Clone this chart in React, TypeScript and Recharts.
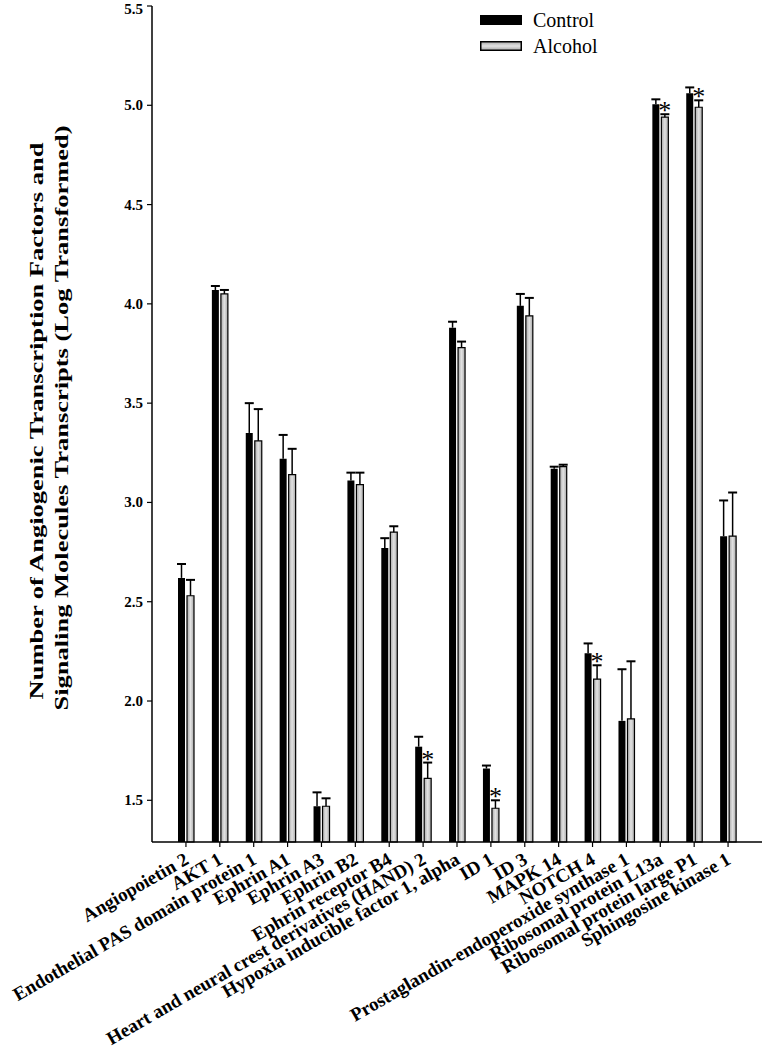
import React from 'react';
import { BarChart, Bar, XAxis, YAxis, LabelList } from 'recharts';

const categories = [
  'Angiopoietin 2',
  'AKT 1',
  'Endothelial PAS domain protein 1',
  'Ephrin A1',
  'Ephrin A3',
  'Ephrin B2',
  'Ephrin receptor B4',
  'Heart and neural crest derivatives (HAND) 2',
  'Hypoxia inducible factor 1, alpha',
  'ID 1',
  'ID 3',
  'MAPK 14',
  'NOTCH 4',
  'Prostaglandin-endoperoxide synthase 1',
  'Ribosomal protein L13a',
  'Ribosomal protein large P1',
  'Sphingosine kinase 1',
];
const control = [2.62, 4.07, 3.35, 3.22, 1.47, 3.11, 2.77, 1.77, 3.88, 1.66, 3.99, 3.17, 2.24, 1.9, 5.005, 5.06, 2.83];
const controlErr = [0.07, 0.02, 0.15, 0.12, 0.07, 0.04, 0.05, 0.05, 0.03, 0.015, 0.06, 0.01, 0.05, 0.26, 0.025, 0.03, 0.18];
const alcohol = [2.53, 4.05, 3.31, 3.14, 1.47, 3.09, 2.85, 1.61, 3.78, 1.46, 3.94, 3.18, 2.11, 1.91, 4.94, 4.99, 2.83];
const alcoholErr = [0.08, 0.02, 0.16, 0.13, 0.04, 0.06, 0.03, 0.08, 0.03, 0.04, 0.09, 0.01, 0.07, 0.29, 0.015, 0.035, 0.22];
const significant = [false, false, false, false, false, false, false, true, false, true, false, false, true, false, true, true, false];
const yTicks = [1.5, 2.0, 2.5, 3.0, 3.5, 4.0, 4.5, 5.0, 5.5];
const yDomain = [1.29, 5.5];
const seriesNames = ['Control', 'Alcohol'];
const yLabelLines = [
  'Number of Angiogenic Transcription Factors and',
  'Signaling Molecules Transcripts (Log Transformed)',
];

const data = categories.map((name, i) => ({
  name,
  control: control[i],
  alcohol: alcohol[i],
  cErr: controlErr[i],
  aErr: alcoholErr[i],
  sig: significant[i],
}));

const FONT = '"Liberation Serif", "Times New Roman", serif';

const XTick = (props: any) => {
  const { x, y, payload } = props;
  const px = x + 4;
  const py = y + 14;
  return (
    <text
      x={px}
      y={py}
      transform={`rotate(-30, ${px}, ${py})`}
      textAnchor="end"
      fontFamily={FONT}
      fontWeight="bold"
      fontSize={19}
      fill="#000"
    >
      {payload.value}
    </text>
  );
};

const YTick = (props: any) => {
  const { x, y, payload } = props;
  return (
    <text x={x - 2} y={y + 5} textAnchor="end" fontFamily={FONT} fontWeight="bold" fontSize={15} fill="#000">
      {payload.value.toFixed(1)}
    </text>
  );
};

const makeErr = (valKey: 'control' | 'alcohol', errKey: 'cErr' | 'aErr', star: boolean) => (props: any) => {
  const { x, y, width, height, index } = props;
  const d: any = data[index];
  if (!d) return null;
  const pxPerUnit = height / (d[valKey] - yDomain[0]);
  const capY = y - d[errKey] * pxPerUnit;
  const cx = x + width / 2;
  return (
    <g>
      <line x1={cx} x2={cx} y1={y} y2={capY} stroke="#000" strokeWidth={1.5} />
      <line x1={cx - 4.5} x2={cx + 4.5} y1={capY} y2={capY} stroke="#000" strokeWidth={2} />
      {star && d.sig ? (
        <text x={cx} y={capY + 5} textAnchor="middle" fontFamily={FONT} fontSize={26} fill="#000" stroke="none">
          *
        </text>
      ) : null}
    </g>
  );
};

const ControlErr = makeErr('control', 'cErr', false);
const AlcoholErr = makeErr('alcohol', 'aErr', true);

const YLabel = () => (
  <g>
    <text
      x={0}
      y={0}
      transform={`translate(43, 421) rotate(-90) scale(1, 0.72)`}
      textAnchor="middle"
      fontFamily={FONT}
      fontWeight="bold"
      fontSize={26.5}
      fill="#000"
    >
      {yLabelLines[0]}
    </text>
    <text
      x={0}
      y={0}
      transform={`translate(68, 418) rotate(-90) scale(1, 0.72)`}
      textAnchor="middle"
      fontFamily={FONT}
      fontWeight="bold"
      fontSize={26.5}
      fill="#000"
    >
      {yLabelLines[1]}
    </text>
  </g>
);

export default function App() {
  return (
    <div style={{ position: 'absolute', left: 0, top: 0, width: 763, height: 1056, background: '#fff' }}>
      <BarChart
        width={763}
        height={1056}
        data={data}
        margin={{ top: 6, right: 1, bottom: 0, left: 92 }}
        barSize={7}
        barGap={2}
      >
        <defs>
          <linearGradient id="grayGrad" x1="0" y1="0" x2="1" y2="0">
            <stop offset="0%" stopColor="#a8a8a8" />
            <stop offset="50%" stopColor="#e2e2e2" />
            <stop offset="100%" stopColor="#a8a8a8" />
          </linearGradient>
        </defs>
        <XAxis
          dataKey="name"
          interval={0}
          height={214}
          padding={{ left: 17, right: 17 }}
          tick={<XTick />}
          tickSize={5}
          axisLine={{ stroke: '#000', strokeWidth: 1.5 }}
          tickLine={{ stroke: '#000', strokeWidth: 1.2 }}
        />
        <YAxis
          type="number"
          domain={yDomain}
          ticks={yTicks}
          width={60}
          tick={<YTick />}
          tickSize={5}
          axisLine={{ stroke: '#000', strokeWidth: 1.5 }}
          tickLine={{ stroke: '#000', strokeWidth: 1.2 }}
          label={{ content: () => <YLabel /> }}
        />
        <Bar dataKey="control" name={seriesNames[0]} fill="#000" isAnimationActive={false}>
          <LabelList dataKey="control" content={<ControlErr />} />
        </Bar>
        <Bar
          dataKey="alcohol"
          name={seriesNames[1]}
          fill="url(#grayGrad)"
          stroke="#000"
          strokeWidth={1.2}
          isAnimationActive={false}
        >
          <LabelList dataKey="alcohol" content={<AlcoholErr />} />
        </Bar>
      </BarChart>
      <div style={{ position: 'absolute', left: 480, top: 8 }}>
        <svg width={140} height={52} style={{ display: 'block' }}>
          <defs>
            <linearGradient id="grayGradLegend" x1="0" y1="0" x2="0" y2="1">
              <stop offset="0%" stopColor="#a8a8a8" />
              <stop offset="50%" stopColor="#e2e2e2" />
              <stop offset="100%" stopColor="#a8a8a8" />
            </linearGradient>
          </defs>
          <rect x={0} y={7} width={42} height={10} fill="#000" />
          <text x={53} y={19} fontFamily={FONT} fontSize={20} fill="#000">{seriesNames[0]}</text>
          <rect x={0.75} y={33.75} width={40.5} height={8.5} fill="url(#grayGradLegend)" stroke="#000" strokeWidth={1.5} />
          <text x={53} y={45} fontFamily={FONT} fontSize={20} fill="#000">{seriesNames[1]}</text>
        </svg>
      </div>
    </div>
  );
}
